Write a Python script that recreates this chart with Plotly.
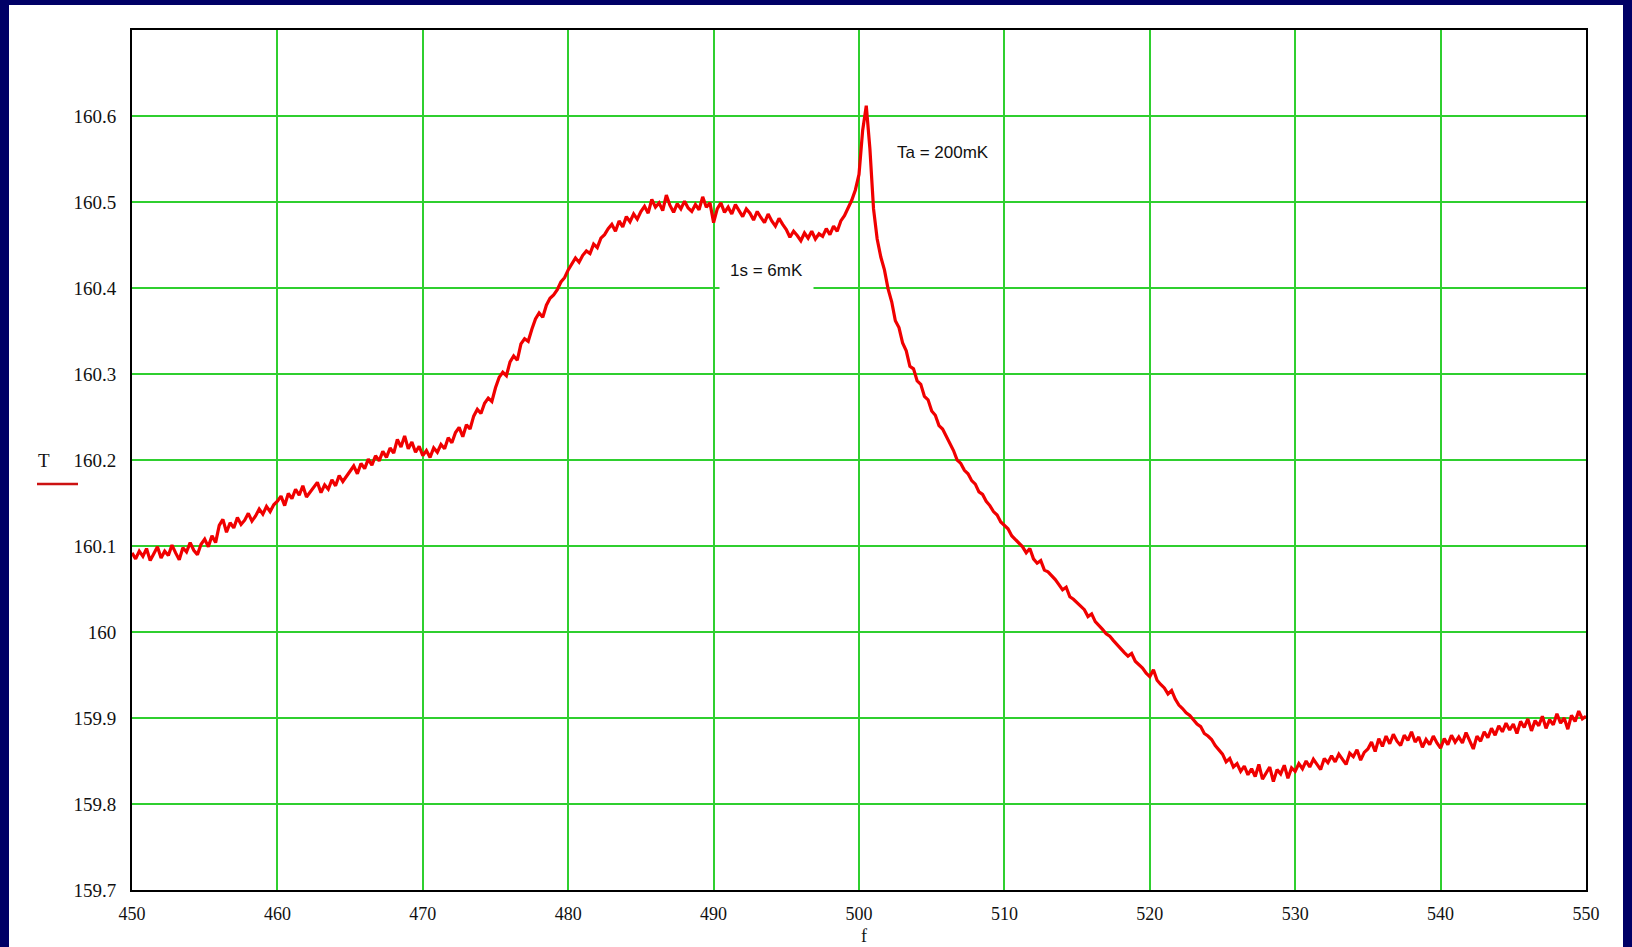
import plotly.graph_objects as go

# sample grid: f from 450 to 550 in steps of 0.25
F_START = 450.0
F_STEP = 0.25

T = [
    160.092, 160.085, 160.094, 160.088, 160.097, 160.083, 160.091, 160.099, 160.086, 160.094,
    160.089, 160.101, 160.092, 160.084, 160.098, 160.093, 160.104, 160.095, 160.090, 160.102,
    160.108, 160.099, 160.112, 160.104, 160.124, 160.131, 160.116, 160.127, 160.121, 160.133,
    160.125, 160.130, 160.138, 160.129, 160.135, 160.143, 160.137, 160.146, 160.140, 160.148,
    160.152, 160.158, 160.147, 160.161, 160.155, 160.166, 160.159, 160.170, 160.157, 160.163,
    160.168, 160.174, 160.162, 160.171, 160.166, 160.177, 160.170, 160.182, 160.175, 160.181,
    160.186, 160.193, 160.184, 160.196, 160.190, 160.201, 160.194, 160.205, 160.199, 160.210,
    160.203, 160.214, 160.208, 160.224, 160.215, 160.228, 160.213, 160.221, 160.209, 160.216,
    160.205, 160.211, 160.203, 160.214, 160.209, 160.218, 160.213, 160.226, 160.220, 160.232,
    160.238, 160.227, 160.241, 160.236, 160.251, 160.259, 160.254, 160.266, 160.272, 160.268,
    160.284, 160.296, 160.302, 160.298, 160.314, 160.321, 160.316, 160.335, 160.341, 160.338,
    160.352, 160.364, 160.371, 160.366, 160.380, 160.388, 160.392, 160.398, 160.407, 160.412,
    160.421, 160.428, 160.435, 160.430, 160.438, 160.443, 160.440, 160.451, 160.447, 160.458,
    160.462, 160.469, 160.474, 160.466, 160.478, 160.471, 160.483, 160.477, 160.486, 160.480,
    160.489, 160.495, 160.487, 160.503, 160.494, 160.499, 160.490, 160.508, 160.496, 160.488,
    160.498, 160.492, 160.501, 160.493, 160.489, 160.497, 160.491, 160.506, 160.494, 160.499,
    160.476, 160.492, 160.499, 160.488, 160.494, 160.486, 160.497, 160.490, 160.483, 160.492,
    160.487, 160.479, 160.489, 160.482, 160.476, 160.486, 160.478, 160.472, 160.481, 160.474,
    160.468, 160.459, 160.466, 160.461, 160.455, 160.464, 160.458, 160.466, 160.457, 160.463,
    160.460, 160.469, 160.462, 160.472, 160.466, 160.478, 160.484, 160.493, 160.502, 160.514,
    160.532, 160.583, 160.612, 160.562, 160.492, 160.457, 160.436, 160.421, 160.399, 160.384,
    160.362, 160.354, 160.336, 160.327, 160.309, 160.306, 160.292, 160.288, 160.274, 160.270,
    160.257, 160.252, 160.240, 160.236, 160.228, 160.219, 160.211, 160.200, 160.196, 160.188,
    160.184, 160.176, 160.172, 160.163, 160.160, 160.152, 160.147, 160.140, 160.136, 160.128,
    160.124, 160.120, 160.112, 160.108, 160.103, 160.099, 160.092, 160.097, 160.085, 160.080,
    160.083, 160.072, 160.070, 160.066, 160.061, 160.055, 160.049, 160.052, 160.041, 160.038,
    160.034, 160.029, 160.026, 160.018, 160.021, 160.012, 160.008, 160.003, 159.998, 159.995,
    159.990, 159.985, 159.981, 159.976, 159.972, 159.975, 159.966, 159.962, 159.958, 159.952,
    159.948, 159.956, 159.944, 159.939, 159.935, 159.928, 159.932, 159.922, 159.915, 159.911,
    159.906, 159.903, 159.898, 159.893, 159.890, 159.882, 159.879, 159.875, 159.868, 159.863,
    159.858, 159.849, 159.853, 159.843, 159.847, 159.838, 159.844, 159.834, 159.841, 159.832,
    159.846, 159.829, 159.837, 159.843, 159.826, 159.840, 159.835, 159.845, 159.830, 159.842,
    159.838, 159.847, 159.841, 159.850, 159.843, 159.852, 159.846, 159.840, 159.853, 159.848,
    159.856, 159.849, 159.858, 159.852, 159.846, 159.859, 159.855, 159.863, 159.851, 159.860,
    159.864, 159.872, 159.861, 159.876, 159.867, 159.879, 159.870, 159.881, 159.873, 159.868,
    159.880, 159.874, 159.884, 159.872, 159.878, 159.866, 159.875, 159.869, 159.879, 159.871,
    159.865, 159.876, 159.869, 159.880, 159.872, 159.878, 159.871, 159.883, 159.874, 159.864,
    159.879, 159.873, 159.884, 159.877, 159.888, 159.880, 159.891, 159.884, 159.894, 159.886,
    159.893, 159.882, 159.896, 159.889, 159.899, 159.885, 159.897, 159.891, 159.902, 159.888,
    159.898, 159.892, 159.905, 159.894, 159.900, 159.887, 159.903, 159.896, 159.908, 159.899,
    159.902,
]
f = [F_START + F_STEP * i for i in range(len(T))]

x_ticks = [450, 460, 470, 480, 490, 500, 510, 520, 530, 540, 550]
y_ticks = [159.7, 159.8, 159.9, 160.0, 160.1, 160.2, 160.3, 160.4, 160.5, 160.6]
y_tick_text = ["159.7", "159.8", "159.9", "160", "160.1", "160.2", "160.3", "160.4", "160.5", "160.6"]

W, H = 1632, 947
L, R, TOP, B = 132, 1586, 30, 890
pw, ph = R - L, B - TOP

def px(x):
    return (x - L) / pw

def py(y):
    return (B - y) / ph

fig = go.Figure()
fig.add_trace(go.Scatter(x=f, y=T, mode="lines",
                         line=dict(color="#f00000", width=3.2), showlegend=False))

grid_color = "#2fcf2f"
ytick_font = dict(family="Liberation Serif", size=19, color="#111111")
xtick_font = dict(family="Liberation Serif", size=18, color="#111111")

fig.update_layout(
    width=W, height=H,
    margin=dict(l=L, r=W - R, t=TOP, b=H - B, pad=0),
    paper_bgcolor="#000066",
    plot_bgcolor="white",
    xaxis=dict(range=[450, 550], tickvals=x_ticks, showgrid=True, gridcolor=grid_color,
               gridwidth=2, showline=True, linecolor="black", linewidth=2, mirror=True,
               ticks="", tickfont=xtick_font, zeroline=False, ticklabelstandoff=6),
    yaxis=dict(range=[159.7, 160.7], tickvals=y_ticks, ticktext=y_tick_text, showgrid=True,
               gridcolor=grid_color, gridwidth=2, showline=True, linecolor="black",
               linewidth=2, mirror=True, ticks="", tickfont=ytick_font, zeroline=False,
               ticklabelstandoff=10),
    shapes=[
        dict(type="rect", xref="paper", yref="paper", layer="below",
             x0=px(9), x1=px(1623), y0=py(950), y1=py(5),
             fillcolor="white", line=dict(width=0)),
        dict(type="line", xref="paper", yref="paper",
             x0=px(37), x1=px(78), y0=py(484), y1=py(484),
             line=dict(color="#cc1111", width=2.5)),
    ],
    annotations=[
        dict(text="T", xref="paper", yref="paper", x=px(44), y=py(460), showarrow=False,
             xanchor="center", yanchor="middle",
             font=dict(family="Liberation Serif", size=19, color="#111111")),
        dict(text="f", xref="paper", yref="paper", x=px(864), y=py(947), showarrow=False,
             xanchor="center", yanchor="bottom", borderpad=0,
             font=dict(family="Liberation Serif", size=18, color="#111111")),
        dict(text="Ta = 200mK", x=502.45, y=160.558, xanchor="left", yanchor="middle",
             showarrow=False,
             font=dict(family="Liberation Sans", size=17, color="#111111")),
        dict(text="1s = 6mK", x=493.64, y=160.42, xanchor="center", yanchor="middle",
             showarrow=False, bgcolor="white", borderpad=10,
             font=dict(family="Liberation Sans", size=17, color="#111111")),
    ],
)

fig.write_html(
    "out.html",
    config={"displayModeBar": False},
    post_script="document.body.style.margin='0';document.body.style.background='#000066';"
                "document.body.style.overflow='hidden';",
)
